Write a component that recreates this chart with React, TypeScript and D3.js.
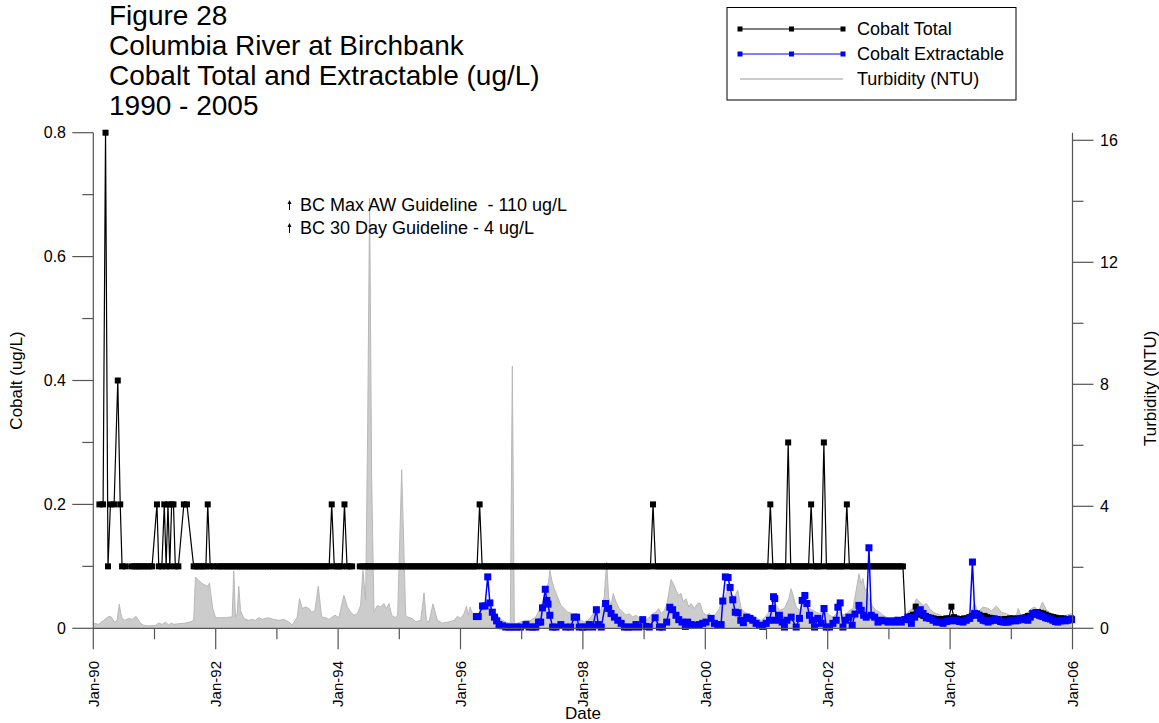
import React from "react";
import * as d3 from "d3";

const W = 1159;
const H = 723;

const titleLines = [
  "Figure 28",
  "Columbia River at Birchbank",
  "Cobalt Total and Extractable (ug/L)",
  "1990 - 2005",
];
const guidelineNotes = ["BC Max AW Guideline  - 110 ug/L", "BC 30 Day Guideline - 4 ug/L"];
const legendLabels = ["Cobalt Total", "Cobalt Extractable", "Turbidity (NTU)"];
const xTitle = "Date";
const yLeftTitle = "Cobalt (ug/L)";
const yRightTitle = "Turbidity (NTU)";

const cobaltTicks = [0, 0.1, 0.2, 0.3, 0.4, 0.5, 0.6, 0.7, 0.8];
const cobaltLabels = ["0", "", "0.2", "", "0.4", "", "0.6", "", "0.8"];
const turbTicks = [0, 2, 4, 6, 8, 10, 12, 14, 16];
const turbLabels = ["0", "", "4", "", "8", "", "12", "", "16"];
const yearTicks = [1990, 1991, 1992, 1993, 1994, 1995, 1996, 1997, 1998, 1999, 2000, 2001, 2002, 2003, 2004, 2005, 2006];
const yearLabels = ["Jan-90", "", "Jan-92", "", "Jan-94", "", "Jan-96", "", "Jan-98", "", "Jan-00", "", "Jan-02", "", "Jan-04", "", "Jan-06"];

// Turbidity (NTU) [decimal year, value]
const turbidity: [number, number][] = [
  [1990.0, 0.17], [1990.087, 0.13], [1990.169, 0.26], [1990.25, 0.39], [1990.294, 0.37], [1990.348, 0.2],
  [1990.388, 0.26], [1990.425, 0.79], [1990.458, 0.37], [1990.512, 0.26], [1990.578, 0.32], [1990.633, 0.29],
  [1990.699, 0.39], [1990.731, 0.29], [1990.769, 0.17], [1990.823, 0.1], [1990.905, 0.08], [1991.014, 0.09],
  [1991.068, 0.17], [1991.124, 0.13], [1991.178, 0.2], [1991.232, 0.11], [1991.276, 0.17], [1991.314, 0.13],
  [1991.396, 0.15], [1991.505, 0.17], [1991.587, 0.21], [1991.641, 0.26], [1991.669, 1.68], [1991.723, 1.57],
  [1991.778, 1.47], [1991.832, 1.41], [1991.876, 1.38], [1991.898, 1.49], [1991.919, 1.14], [1991.952, 0.65],
  [1991.996, 0.35], [1992.078, 0.35], [1992.16, 0.35], [1992.241, 0.37], [1992.269, 0.37], [1992.295, 1.88],
  [1992.323, 0.37], [1992.351, 0.48], [1992.377, 1.38], [1992.405, 0.59], [1992.459, 0.32], [1992.541, 0.26],
  [1992.596, 0.29], [1992.65, 0.26], [1992.704, 0.35], [1992.76, 0.29], [1992.814, 0.33], [1992.868, 0.34],
  [1992.95, 0.29], [1993.032, 0.26], [1993.113, 0.29], [1993.195, 0.21], [1993.251, 0.1], [1993.333, 0.37],
  [1993.37, 0.97], [1993.414, 0.65], [1993.468, 0.7], [1993.522, 0.65], [1993.566, 0.53], [1993.62, 0.57],
  [1993.676, 1.38], [1993.73, 0.37], [1993.796, 0.35], [1993.85, 0.29], [1993.905, 0.37], [1993.948, 0.43],
  [1994.013, 0.35], [1994.095, 1.08], [1994.151, 0.7], [1994.204, 0.53], [1994.258, 0.43], [1994.314, 0.48],
  [1994.368, 0.75], [1994.406, 1.9], [1994.45, 0.92], [1994.483, 6.5], [1994.515, 14.1], [1994.548, 5.0],
  [1994.586, 0.53], [1994.641, 0.75], [1994.695, 0.7], [1994.749, 0.81], [1994.789, 0.65], [1994.831, 0.81],
  [1994.875, 0.43], [1994.929, 0.35], [1994.973, 0.43], [1995.039, 5.2], [1995.104, 0.43], [1995.132, 0.37],
  [1995.214, 0.32], [1995.268, 0.21], [1995.35, 0.26], [1995.404, 1.16], [1995.443, 0.26], [1995.486, 0.21],
  [1995.55, 0.8], [1995.623, 0.26], [1995.705, 0.17], [1995.813, 0.21], [1995.894, 0.26], [1995.95, 0.39],
  [1996.004, 0.32], [1996.058, 0.48], [1996.097, 0.72], [1996.13, 0.43], [1996.156, 0.7], [1996.195, 0.48],
  [1996.25, 0.37], [1996.304, 0.53], [1996.359, 0.7], [1996.413, 0.65], [1996.467, 0.75], [1996.523, 0.59],
  [1996.577, 0.48], [1996.631, 0.37], [1996.686, 0.26], [1996.74, 0.21], [1996.794, 0.17], [1996.814, 0.2],
  [1996.847, 8.6], [1996.879, 0.2], [1996.904, 0.15], [1996.986, 0.21], [1997.067, 0.26], [1997.149, 0.26],
  [1997.231, 0.37], [1997.313, 0.7], [1997.395, 1.25], [1997.439, 1.52], [1997.46, 1.9], [1997.493, 1.57],
  [1997.53, 1.3], [1997.586, 1.03], [1997.64, 0.75], [1997.694, 0.65], [1997.75, 0.53], [1997.804, 0.5],
  [1997.858, 0.43], [1997.913, 0.35], [1997.967, 0.26], [1998.021, 0.21], [1998.077, 0.26], [1998.131, 0.37],
  [1998.185, 0.53], [1998.24, 0.48], [1998.294, 0.59], [1998.348, 1.03], [1998.388, 2.17], [1998.42, 1.03],
  [1998.458, 0.7], [1998.496, 1.14], [1998.54, 0.86], [1998.594, 0.65], [1998.65, 0.53], [1998.704, 0.43],
  [1998.758, 0.48], [1998.813, 0.37], [1998.867, 0.43], [1998.921, 0.32], [1998.977, 0.37], [1999.031, 0.26],
  [1999.085, 0.37], [1999.14, 0.48], [1999.194, 0.53], [1999.238, 0.65], [1999.276, 0.48], [1999.33, 0.59],
  [1999.369, 0.75], [1999.402, 1.14], [1999.44, 1.6], [1999.477, 1.47], [1999.521, 1.25], [1999.566, 1.08],
  [1999.603, 1.14], [1999.641, 0.86], [1999.685, 0.97], [1999.729, 0.7], [1999.767, 0.81], [1999.821, 0.65],
  [1999.876, 0.81], [1999.914, 0.83], [1999.958, 0.53], [2000.012, 0.43], [2000.066, 0.48], [2000.122, 0.37],
  [2000.176, 0.48], [2000.23, 0.65], [2000.274, 0.97], [2000.328, 1.08], [2000.367, 1.25], [2000.421, 1.08],
  [2000.475, 1.03], [2000.531, 1.25], [2000.585, 0.65], [2000.639, 0.53], [2000.694, 0.48], [2000.748, 0.43],
  [2000.802, 0.37], [2000.858, 0.32], [2000.912, 0.26], [2000.966, 0.35], [2001.022, 0.48], [2001.076, 0.7],
  [2001.13, 0.86], [2001.211, 0.59], [2001.293, 0.65], [2001.365, 0.97], [2001.403, 1.3], [2001.44, 1.03],
  [2001.485, 0.7], [2001.539, 0.59], [2001.594, 0.81], [2001.648, 0.75], [2001.702, 0.65], [2001.758, 0.59],
  [2001.812, 0.53], [2001.866, 0.48], [2001.922, 0.59], [2001.976, 0.53], [2002.03, 0.43], [2002.085, 0.37],
  [2002.139, 0.48], [2002.193, 0.53], [2002.249, 0.43], [2002.303, 0.48], [2002.357, 0.59], [2002.412, 0.65],
  [2002.466, 1.25], [2002.511, 1.79], [2002.543, 1.47], [2002.576, 1.63], [2002.608, 1.25], [2002.641, 1.3],
  [2002.684, 0.92], [2002.739, 0.7], [2002.793, 0.59], [2002.847, 0.53], [2002.903, 0.43], [2002.957, 0.37],
  [2003.011, 0.32], [2003.067, 0.35], [2003.121, 0.37], [2003.175, 0.32], [2003.23, 0.32], [2003.284, 0.43],
  [2003.338, 0.59], [2003.394, 0.65], [2003.448, 0.97], [2003.502, 0.86], [2003.558, 0.75], [2003.612, 0.81],
  [2003.666, 0.65], [2003.721, 0.53], [2003.775, 0.48], [2003.83, 0.45], [2003.885, 0.37], [2003.993, 0.38],
  [2004.102, 0.35], [2004.212, 0.37], [2004.32, 0.43], [2004.402, 0.81], [2004.457, 0.53], [2004.539, 0.7],
  [2004.621, 0.65], [2004.675, 0.57], [2004.757, 0.73], [2004.839, 0.53], [2004.92, 0.48], [2005.002, 0.39],
  [2005.084, 0.43], [2005.112, 0.65], [2005.166, 0.37], [2005.248, 0.48], [2005.33, 0.65], [2005.384, 0.7],
  [2005.439, 0.53], [2005.509, 0.86], [2005.575, 0.59], [2005.656, 0.48], [2005.738, 0.43], [2005.82, 0.37],
  [2005.902, 0.43], [2005.984, 0.48],
];

// Cobalt Extractable (ug/L) [decimal year, value]
const extractable: [number, number][] = [
  [1996.26, 0.019], [1996.29, 0.019], [1996.36, 0.036], [1996.4, 0.036], [1996.445, 0.083], [1996.48, 0.041],
  [1996.52, 0.026], [1996.555, 0.018], [1996.59, 0.012], [1996.63, 0.006], [1996.685, 0.004], [1996.74, 0.002],
  [1996.8, 0.002], [1996.86, 0.002], [1996.92, 0.002], [1996.98, 0.002], [1997.07, 0.006], [1997.12, 0.002],
  [1997.18, 0.002], [1997.23, 0.002], [1997.275, 0.01], [1997.31, 0.01], [1997.34, 0.033], [1997.385, 0.063],
  [1997.41, 0.045], [1997.43, 0.039], [1997.46, 0.021], [1997.505, 0.002], [1997.56, 0.002], [1997.64, 0.006],
  [1997.72, 0.002], [1997.8, 0.002], [1997.858, 0.018], [1997.897, 0.018], [1997.94, 0.002], [1997.995, 0.002],
  [1998.05, 0.002], [1998.105, 0.006], [1998.16, 0.002], [1998.22, 0.03], [1998.25, 0.006], [1998.3, 0.002],
  [1998.37, 0.04], [1998.42, 0.032], [1998.46, 0.024], [1998.515, 0.018], [1998.57, 0.013], [1998.625, 0.008],
  [1998.68, 0.002], [1998.74, 0.002], [1998.8, 0.002], [1998.867, 0.006], [1998.91, 0.002], [1998.977, 0.014],
  [1999.031, 0.003], [1999.085, 0.002], [1999.18, 0.017], [1999.25, 0.002], [1999.3, 0.002], [1999.369, 0.01],
  [1999.42, 0.034], [1999.466, 0.03], [1999.521, 0.021], [1999.566, 0.014], [1999.62, 0.01], [1999.674, 0.003],
  [1999.713, 0.01], [1999.767, 0.006], [1999.821, 0.005], [1999.9, 0.006], [1999.958, 0.008], [2000.012, 0.01],
  [2000.094, 0.016], [2000.149, 0.008], [2000.203, 0.005], [2000.258, 0.006], [2000.285, 0.044], [2000.328, 0.083],
  [2000.372, 0.082], [2000.405, 0.066], [2000.449, 0.046], [2000.49, 0.026], [2000.536, 0.025], [2000.58, 0.013],
  [2000.622, 0.009], [2000.677, 0.018], [2000.731, 0.016], [2000.776, 0.013], [2000.83, 0.008], [2000.885, 0.005],
  [2000.94, 0.003], [2000.995, 0.008], [2001.05, 0.013], [2001.09, 0.032], [2001.115, 0.051], [2001.135, 0.048],
  [2001.157, 0.013], [2001.211, 0.021], [2001.255, 0.01], [2001.293, 0.002], [2001.333, 0.013], [2001.403, 0.018],
  [2001.485, 0.002], [2001.539, 0.016], [2001.583, 0.045], [2001.627, 0.053], [2001.66, 0.04], [2001.702, 0.021],
  [2001.748, 0.013], [2001.785, 0.002], [2001.84, 0.016], [2001.895, 0.008], [2001.94, 0.032], [2001.976, 0.002],
  [2002.03, 0.002], [2002.085, 0.008], [2002.139, 0.013], [2002.166, 0.034], [2002.204, 0.041], [2002.249, 0.002],
  [2002.29, 0.013], [2002.346, 0.018], [2002.4, 0.005], [2002.445, 0.023], [2002.51, 0.037], [2002.548, 0.029],
  [2002.587, 0.021], [2002.63, 0.018], [2002.674, 0.13], [2002.712, 0.021], [2002.767, 0.018], [2002.822, 0.01],
  [2002.876, 0.013], [2002.93, 0.012], [2002.985, 0.01], [2003.04, 0.012], [2003.094, 0.01], [2003.148, 0.013],
  [2003.202, 0.01], [2003.257, 0.014], [2003.31, 0.018], [2003.367, 0.008], [2003.42, 0.018], [2003.475, 0.026],
  [2003.513, 0.03], [2003.558, 0.024], [2003.612, 0.017], [2003.666, 0.016], [2003.721, 0.013], [2003.775, 0.01],
  [2003.83, 0.01], [2003.885, 0.008], [2003.94, 0.011], [2003.99, 0.013], [2004.048, 0.012], [2004.1, 0.013],
  [2004.157, 0.011], [2004.21, 0.01], [2004.265, 0.013], [2004.32, 0.016], [2004.365, 0.107], [2004.402, 0.024],
  [2004.457, 0.021], [2004.5, 0.016], [2004.539, 0.013], [2004.58, 0.012], [2004.621, 0.01], [2004.66, 0.012],
  [2004.7, 0.013], [2004.74, 0.014], [2004.785, 0.013], [2004.825, 0.011], [2004.867, 0.01], [2004.91, 0.01],
  [2004.95, 0.01], [2004.99, 0.012], [2005.03, 0.013], [2005.07, 0.012], [2005.11, 0.013], [2005.15, 0.015],
  [2005.19, 0.016], [2005.23, 0.014], [2005.27, 0.013], [2005.31, 0.018], [2005.35, 0.024], [2005.38, 0.023],
  [2005.41, 0.024], [2005.46, 0.021], [2005.49, 0.02], [2005.52, 0.019], [2005.56, 0.017], [2005.6, 0.016],
  [2005.64, 0.015], [2005.68, 0.013], [2005.72, 0.011], [2005.76, 0.01], [2005.8, 0.012], [2005.84, 0.013],
  [2005.88, 0.012], [2005.92, 0.013], [2005.96, 0.014], [2005.985, 0.014],
];

// Cobalt Total (ug/L), 1990-1991 samples [decimal year, value]
const totalEarly: [number, number][] = [
  [1990.1, 0.2], [1990.16, 0.2], [1990.2, 0.8], [1990.24, 0.1], [1990.28, 0.2], [1990.34, 0.2], [1990.4, 0.4],
  [1990.44, 0.2], [1990.47, 0.1], [1990.53, 0.1], [1990.63, 0.1], [1990.67, 0.1], [1990.71, 0.1], [1990.75, 0.1],
  [1990.79, 0.1], [1990.83, 0.1], [1990.88, 0.1], [1990.92, 0.1], [1990.96, 0.1], [1991.04, 0.2], [1991.07, 0.1],
  [1991.12, 0.1], [1991.16, 0.2], [1991.19, 0.1], [1991.22, 0.2], [1991.25, 0.1], [1991.28, 0.2], [1991.31, 0.2],
  [1991.34, 0.1], [1991.39, 0.1], [1991.48, 0.2], [1991.53, 0.2], [1991.64, 0.1], [1991.68, 0.1], [1991.72, 0.1],
  [1991.76, 0.1], [1991.8, 0.1], [1991.84, 0.1], [1991.87, 0.2], [1991.91, 0.1], [1991.96, 0.1],
];

// Cobalt Total (ug/L), 1992-2005: two samples per month (24 per year), null = no sample
const totalYears = [1992, 1993, 1994, 1995, 1996, 1997, 1998, 1999, 2000, 2001, 2002, 2003, 2004, 2005];
const totalSemiMonthly: (number | null)[][] = [
  [.1, .1, .1, .1, .1, .1, .1, .1, .1, .1, .1, .1, .1, .1, .1, .1, .1, .1, .1, .1, .1, .1, .1, .1],
  [.1, .1, .1, .1, .1, .1, .1, .1, .1, .1, .1, .1, .1, .1, .1, .1, .1, .1, .1, .1, .1, .2, .1, .1],
  [.1, .1, .2, .1, .1, .1, null, null, .1, .1, .1, .1, .1, .1, .1, .1, .1, .1, .1, .1, .1, .1, .1, .1],
  [.1, .1, .1, .1, .1, .1, .1, .1, .1, .1, .1, .1, .1, .1, .1, .1, .1, .1, .1, .1, .1, .1, .1, .1],
  [.1, .1, .1, .1, .1, .1, .1, .2, .1, .1, .1, .1, .1, .1, .1, .1, .1, .1, .1, .1, .1, .1, .1, .1],
  [.1, .1, .1, .1, .1, .1, .1, .1, .1, .1, .1, .1, .1, .1, .1, .1, .1, .1, .1, .1, .1, .1, .1, .1],
  [.1, .1, .1, .1, .1, .1, .1, .1, .1, .1, .1, .1, .1, .1, .1, .1, .1, .1, .1, .1, .1, .1, .1, .1],
  [.1, .1, .1, .2, .1, .1, .1, .1, .1, .1, .1, .1, .1, .1, .1, .1, .1, .1, .1, .1, .1, .1, .1, .1],
  [.1, .1, .1, .1, .1, .1, .1, .1, .1, .1, .1, .1, .1, .1, .1, .1, .1, .1, .1, .1, .1, .1, .1, .1],
  [.1, .2, .1, .1, .1, .1, .1, .1, .3, .1, .1, .1, .1, .1, .1, .1, .1, .2, .1, .1, .1, .1, .3, .1],
  [.1, .1, .1, .1, .1, .1, .1, .2, .1, .1, .1, .1, .1, .1, .1, .1, .1, .1, .1, .1, .1, .1, .1, .1],
  [.1, .1, .1, .1, .1, .1, .015, .016, .02, .022, .035, .025, .022, .02, .02, .018, .017, .016, .015, .015, .014, .015, .016, .016],
  [.035, .018, .016, .015, .015, .016, .016, .018, .02, .022, .024, .022, .02, .02, .018, .017, .016, .016, .015, .014, .014, .015, .015, .016],
  [.016, .015, .016, .016, .017, .018, .02, .02, .022, .026, .026, .025, .024, .022, .02, .019, .018, .017, .016, .016, .016, .015, .015, .016],
];

const PL = 93.3;
const PR = 1072.5;
const PB = 628.3;
const PT_C = 132.7;
const PT_T = 140.3;

export default function App() {
  const x = d3.scaleLinear().domain([1990, 2006]).range([PL, PR]);
  const yC = d3.scaleLinear().domain([0, 0.8]).range([PB, PT_C]);
  const yT = d3.scaleLinear().domain([0, 16]).range([PB, PT_T]);

  const totalSeries: [number, number | null][] = [
    ...totalEarly,
    ...totalYears.flatMap((yr, r) =>
      totalSemiMonthly[r].map((v, i) => [yr + (i + 0.5) / 24, v] as [number, number | null])
    ),
  ];

  const area = d3
    .area<[number, number]>()
    .x((d) => x(d[0]))
    .y0(yT(0))
    .y1((d) => yT(d[1]));
  const turbLine = d3
    .line<[number, number]>()
    .x((d) => x(d[0]))
    .y((d) => yT(d[1]));
  const totLine = d3
    .line<[number, number | null]>()
    .defined((d) => d[1] != null)
    .x((d) => x(d[0]))
    .y((d) => yC(d[1] as number));
  const extLine = d3
    .line<[number, number]>()
    .x((d) => x(d[0]))
    .y((d) => yC(d[1]));

  const font = "Liberation Sans, Arial, sans-serif";
  const axisColor = "#555";
  const ms = 6;

  return (
    <svg
      width={W}
      height={H}
      style={{ position: "absolute", left: 0, top: 0, display: "block", background: "#fff" }}
      fontFamily={font}
    >
      <rect x={0} y={0} width={W} height={H} fill="#fff" />

      {/* title */}
      {titleLines.map((t, i) => (
        <text key={t} x={109} y={25 + i * 30} fontSize={28} fill="#000">
          {t}
        </text>
      ))}

      {/* turbidity */}
      <path d={area(turbidity) || ""} fill="#cccccc" stroke="none" />
      <path d={turbLine(turbidity) || ""} fill="none" stroke="#b8b8b8" strokeWidth={1} />

      {/* cobalt total */}
      <path d={totLine(totalSeries) || ""} fill="none" stroke="#000" strokeWidth={1.2} />
      {totalSeries
        .filter((d) => d[1] != null)
        .map((d, i) => (
          <rect key={"t" + i} x={x(d[0]) - ms / 2} y={yC(d[1] as number) - ms / 2} width={ms} height={ms} fill="#000" />
        ))}

      {/* cobalt extractable */}
      <path d={extLine(extractable) || ""} fill="none" stroke="#0000ff" strokeWidth={1.5} />
      {extractable.map((d, i) => (
        <rect key={"e" + i} x={x(d[0]) - 3.5} y={yC(d[1]) - 3.5} width={7} height={7} fill="#0000ff" />
      ))}

      {/* left axis */}
      <line x1={PL} x2={PL} y1={PT_C} y2={PB} stroke={axisColor} strokeWidth={1.2} />
      {cobaltTicks.map((v, i) => (
        <g key={"cl" + i}>
          <line
            x1={PL - (cobaltLabels[i] ? 21 : 11)}
            x2={PL}
            y1={yC(v)}
            y2={yC(v)}
            stroke={axisColor}
            strokeWidth={1.2}
          />
          {cobaltLabels[i] && (
            <text x={66} y={yC(v)} dy="0.35em" fontSize={16} textAnchor="end">
              {cobaltLabels[i]}
            </text>
          )}
        </g>
      ))}
      <text
        transform={`translate(22,${(PT_C + PB) / 2}) rotate(-90)`}
        fontSize={17}
        textAnchor="middle"
      >
        {yLeftTitle}
      </text>

      {/* right axis */}
      <line x1={PR} x2={PR} y1={PT_C} y2={PB} stroke={axisColor} strokeWidth={1.2} />
      {turbTicks.map((v, i) => (
        <g key={"tr" + i}>
          <line
            x1={PR}
            x2={PR + (turbLabels[i] ? 21 : 11)}
            y1={yT(v)}
            y2={yT(v)}
            stroke={axisColor}
            strokeWidth={1.2}
          />
          {turbLabels[i] && (
            <text x={1100} y={yT(v)} dy="0.35em" fontSize={16} textAnchor="start">
              {turbLabels[i]}
            </text>
          )}
        </g>
      ))}
      <text
        transform={`translate(1156,${(PT_T + PB) / 2 + 4}) rotate(-90)`}
        fontSize={17}
        textAnchor="middle"
      >
        {yRightTitle}
      </text>

      {/* x axis */}
      <line x1={PL} x2={PR} y1={PB} y2={PB} stroke={axisColor} strokeWidth={1.2} />
      {yearTicks.map((yr, i) => (
        <g key={"x" + yr}>
          <line
            x1={x(yr)}
            x2={x(yr)}
            y1={PB}
            y2={PB + (yearLabels[i] ? 21 : 11)}
            stroke={axisColor}
            strokeWidth={1.2}
          />
          {yearLabels[i] && (
            <text
              transform={`translate(${x(yr)},661) rotate(-90)`}
              dy="0.35em"
              fontSize={15}
              textAnchor="end"
            >
              {yearLabels[i]}
            </text>
          )}
        </g>
      ))}
      <text x={(PL + PR) / 2} y={719} fontSize={17} textAnchor="middle">
        {xTitle}
      </text>

      {/* guideline notes */}
      {guidelineNotes.map((t, i) => {
        const yy = 205 + i * 23;
        return (
          <g key={t}>
            <path d={`M289.5,${yy + 5} L289.5,${yy - 3}`} stroke="#000" strokeWidth={1} />
            <path d={`M287.5,${yy - 1} L289.5,${yy - 5} L291.5,${yy - 1} Z`} fill="#000" />
            <text x={300} y={yy} dy="0.35em" fontSize={18} style={{ whiteSpace: "pre" }}>
              {t}
            </text>
          </g>
        );
      })}

      {/* legend */}
      <rect x={727} y={7.5} width={289} height={92.5} fill="#fff" stroke="#000" strokeWidth={1} />
      {legendLabels.map((t, i) => {
        const yy = 29 + i * 25;
        const color = i === 0 ? "#000" : i === 1 ? "#0000ff" : "#cccccc";
        return (
          <g key={t}>
            <line x1={740} x2={843} y1={yy} y2={yy} stroke={color} strokeWidth={i === 2 ? 2 : 1.2} />
            {i < 2 &&
              [740, 791.5, 843].map((mx) => (
                <rect key={mx} x={mx - 2.5} y={yy - 2.5} width={5} height={5} fill={color} />
              ))}
            <text x={857} y={yy} dy="0.35em" fontSize={18}>
              {t}
            </text>
          </g>
        );
      })}
    </svg>
  );
}
